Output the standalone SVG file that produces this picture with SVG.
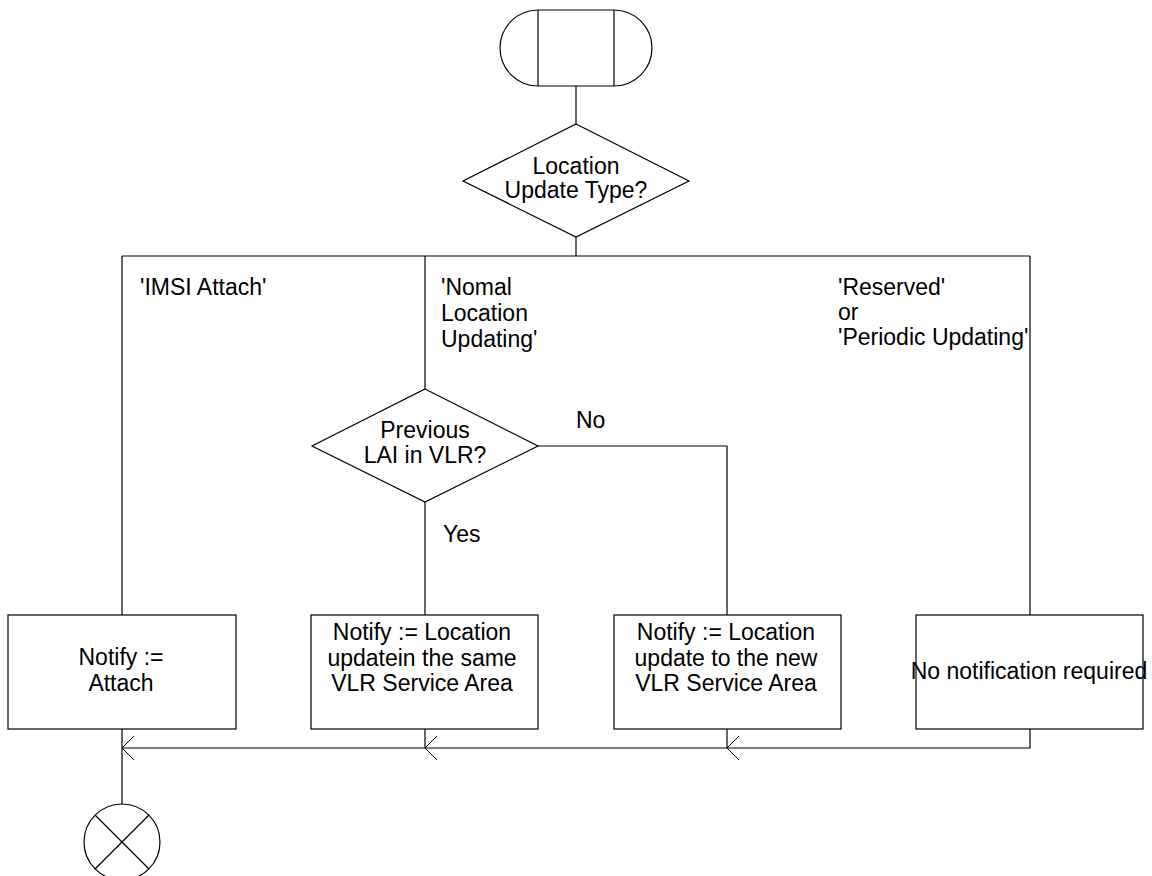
<svg xmlns="http://www.w3.org/2000/svg" width="1152" height="876" viewBox="0 0 1152 876">
  <style>
    .shape { fill: #ffffff; stroke: #000000; stroke-width: 1.2; }
    .line { fill: none; stroke: #000000; stroke-width: 1.2; }
    .head { fill: none; stroke: #000000; stroke-width: 1; }
    text { font-family: "Liberation Sans", Arial, sans-serif; font-size: 23px; fill: #000000; }
    .c { text-anchor: middle; }
  </style>
  <defs>
    <!-- open chevron pointing left, tip at origin -->
    <polyline id="chev" class="head" points="12,-12 0,0 12,12"/>
  </defs>
  <rect width="1152" height="876" fill="#ffffff"/>

  <!-- connectors -->
  <g id="connectors">
    <line class="line" x1="576" y1="86" x2="576" y2="124"/>
    <line class="line" x1="576" y1="237" x2="576" y2="256"/>
    <line class="line" x1="122" y1="256" x2="1030" y2="256"/>
    <line class="line" x1="122" y1="256" x2="122" y2="615"/>
    <line class="line" x1="425" y1="256" x2="425" y2="389"/>
    <line class="line" x1="1030" y1="256" x2="1030" y2="615"/>
    <polyline class="line" points="538,446 727,446 727,615"/>
    <line class="line" x1="425" y1="502" x2="425" y2="615"/>
    <polyline class="line" points="1030,729 1030,748 122,748"/>
    <line class="line" x1="727" y1="729" x2="727" y2="748"/>
    <line class="line" x1="425" y1="729" x2="425" y2="748"/>
    <line class="line" x1="122" y1="729" x2="122" y2="804"/>
    <use href="#chev" x="122" y="748"/>
    <use href="#chev" x="425" y="748"/>
    <use href="#chev" x="727" y="748"/>
    <text x="140" y="295">'IMSI Attach'</text>
    <text x="441" y="295">'Nomal</text>
    <text x="441" y="321">Location</text>
    <text x="441" y="347">Updating'</text>
    <text x="838" y="295">'Reserved'</text>
    <text x="838" y="320">or</text>
    <text x="838" y="345">'Periodic Updating'</text>
    <text x="576" y="428">No</text>
    <text x="443" y="542">Yes</text>
  </g>

  <!-- start -->
  <g id="start">
    <path class="shape" d="M538,10 H614 A38,38 0 0 1 614,86 H538 A38,38 0 0 1 538,10 Z"/>
    <line class="line" x1="538" y1="10" x2="538" y2="86"/>
    <line class="line" x1="614" y1="10" x2="614" y2="86"/>
  </g>

  <!-- decision: location update type -->
  <g id="update-type">
    <polygon class="shape" points="576,124 689,181 576,237 463,181"/>
    <text class="c" x="576" y="174">Location</text>
    <text class="c" x="576" y="198">Update Type?</text>
  </g>

  <!-- decision: previous LAI -->
  <g id="previous-lai">
    <polygon class="shape" points="425,389 538,446 425,502 312,446"/>
    <text class="c" x="425" y="438">Previous</text>
    <text class="c" x="425" y="463">LAI in VLR?</text>
  </g>

  <!-- tasks -->
  <g id="task-attach">
    <rect class="shape" x="8" y="615" width="228" height="114"/>
    <text class="c" x="121" y="665">Notify :=</text>
    <text class="c" x="121" y="691">Attach</text>
  </g>
  <g id="task-same-area">
    <rect class="shape" x="311" y="615" width="227" height="114"/>
    <text class="c" x="422" y="640">Notify := Location</text>
    <text class="c" x="422" y="666">updatein the same</text>
    <text class="c" x="422" y="691">VLR Service Area</text>
  </g>
  <g id="task-new-area">
    <rect class="shape" x="614" y="615" width="227" height="114"/>
    <text class="c" x="726" y="640">Notify := Location</text>
    <text class="c" x="726" y="666">update to the new</text>
    <text class="c" x="726" y="691">VLR Service Area</text>
  </g>
  <g id="task-none">
    <rect class="shape" x="916" y="615" width="227" height="114"/>
    <text class="c" x="1029" y="679">No notification required</text>
  </g>

  <!-- stop -->
  <g id="stop">
    <circle class="shape" cx="122" cy="842" r="38"/>
    <line class="line" x1="95" y1="815" x2="149" y2="869"/>
    <line class="line" x1="149" y1="815" x2="95" y2="869"/>
  </g>
</svg>
